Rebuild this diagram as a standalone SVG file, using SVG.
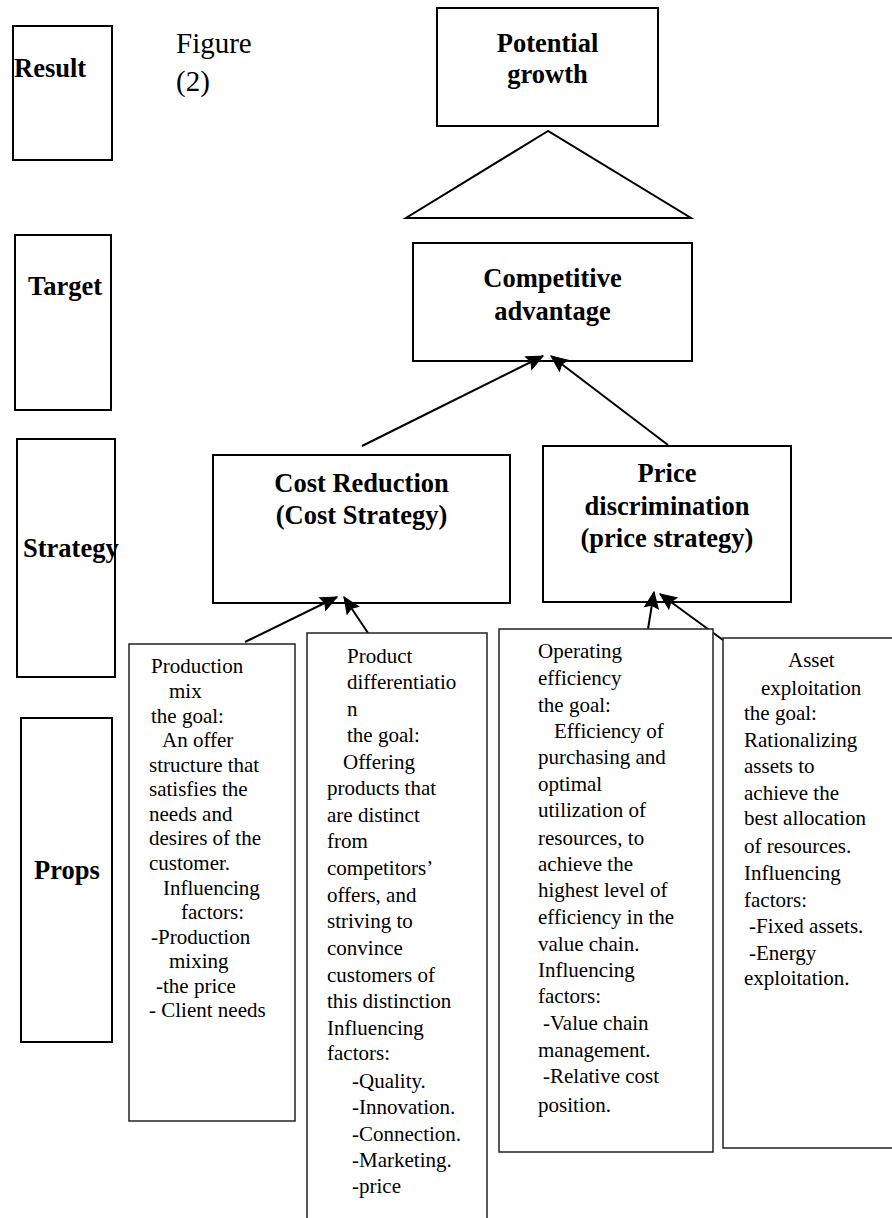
<svg xmlns="http://www.w3.org/2000/svg" width="892" height="1218" viewBox="0 0 892 1218">
<style>
.box{fill:#fff;stroke:#000;stroke-width:2}
.tbox{fill:#fff;stroke:#222;stroke-width:1.5}
.lbl{font-family:"Liberation Serif","Times New Roman",serif;font-weight:bold;font-size:26.5px;fill:#000}
.ttl{font-family:"Liberation Serif","Times New Roman",serif;font-weight:bold;font-size:26.5px;fill:#000;text-anchor:middle}
.txt{font-family:"Liberation Serif","Times New Roman",serif;font-size:21px;fill:#000}
.fig{font-family:"Liberation Serif","Times New Roman",serif;font-size:29px;fill:#000}
.conn{stroke:#000;stroke-width:2;fill:none;marker-end:url(#ah)}
</style>
<defs>
<marker id="ah" markerUnits="userSpaceOnUse" markerWidth="18" markerHeight="15" refX="16" refY="7" orient="auto" overflow="visible">
<path d="M0,0 L16,7 L0,14 L2.5,7 z" fill="#000" stroke="#000" stroke-width="1"/>
</marker>
</defs>

<g id="label-result">
<rect class="box" x="13" y="26" width="99" height="134"/>
<text class="lbl" x="14" y="77">Result</text>
</g>
<g id="label-target">
<rect class="box" x="15" y="235" width="96" height="175"/>
<text class="lbl" x="28" y="295">Target</text>
</g>
<g id="label-strategy">
<rect class="box" x="17" y="439" width="98" height="238"/>
<text class="lbl" x="23" y="557">Strategy</text>
</g>
<g id="label-props">
<rect class="box" x="21" y="718" width="91" height="324"/>
<text class="lbl" x="34" y="879">Props</text>
</g>

<g id="figure-caption">
<text class="fig" x="176" y="53">Figure</text>
<text class="fig" x="176" y="91">(2)</text>
</g>

<g id="potential-growth">
<rect class="box" x="437" y="8" width="221" height="118"/>
<text class="ttl" x="547.5" y="52">Potential</text>
<text class="ttl" x="547.5" y="83">growth</text>
</g>

<g id="triangle">
<polygon points="548,131 406,218 691,218" fill="#fff" stroke="#000" stroke-width="2"/>
</g>

<g id="competitive-advantage">
<rect class="box" x="413" y="243" width="279" height="118"/>
<text class="ttl" x="552.5" y="287">Competitive</text>
<text class="ttl" x="552.5" y="320">advantage</text>
</g>

<g id="cost-reduction">
<rect class="box" x="213" y="455" width="297" height="148"/>
<text class="ttl" x="361.5" y="492">Cost Reduction</text>
<text class="ttl" x="361.5" y="524">(Cost Strategy)</text>
</g>

<g id="price-discrimination">
<rect class="box" x="543" y="446" width="248" height="156"/>
<text class="ttl" x="667" y="482">Price</text>
<text class="ttl" x="667" y="515">discrimination</text>
<text class="ttl" x="667" y="547">(price strategy)</text>
</g>

<g id="connectors">
<line class="conn" x1="362" y1="446" x2="543" y2="356"/>
<line class="conn" x1="668" y1="445" x2="551" y2="356"/>
<line class="conn" x1="245" y1="642" x2="337" y2="597"/>
<line class="conn" x1="368" y1="633" x2="344" y2="597"/>
<line class="conn" x1="648" y1="629" x2="654" y2="592"/>
<line class="conn" x1="723" y1="640" x2="660" y2="594"/>
</g>

<g id="production-mix">
<rect class="tbox" x="129" y="644" width="166" height="477"/>
<text class="txt">
<tspan x="151" y="673">Production</tspan>
<tspan x="169" y="698">mix</tspan>
<tspan x="151" y="723">the goal:</tspan>
<tspan x="162" y="747">An offer</tspan>
<tspan x="149" y="772">structure that</tspan>
<tspan x="149" y="796">satisfies the</tspan>
<tspan x="149" y="821">needs and</tspan>
<tspan x="149" y="845">desires of the</tspan>
<tspan x="149" y="870">customer.</tspan>
<tspan x="163" y="895">Influencing</tspan>
<tspan x="181" y="919">factors:</tspan>
<tspan x="151" y="944">-Production</tspan>
<tspan x="169" y="968">mixing</tspan>
<tspan x="156" y="993">-the price</tspan>
<tspan x="149" y="1017">- Client needs</tspan>
</text>
</g>

<g id="product-differentiation">
<rect class="tbox" x="307" y="633" width="180" height="600"/>
<text class="txt">
<tspan x="347" y="663">Product</tspan>
<tspan x="347" y="689">differentiatio</tspan>
<tspan x="347" y="716">n</tspan>
<tspan x="347" y="742">the goal:</tspan>
<tspan x="343" y="769">Offering</tspan>
<tspan x="327" y="795">products that</tspan>
<tspan x="327" y="822">are distinct</tspan>
<tspan x="327" y="848">from</tspan>
<tspan x="327" y="875">competitors’</tspan>
<tspan x="327" y="902">offers, and</tspan>
<tspan x="327" y="928">striving to</tspan>
<tspan x="327" y="955">convince</tspan>
<tspan x="327" y="982">customers of</tspan>
<tspan x="327" y="1008">this distinction</tspan>
<tspan x="327" y="1035">Influencing</tspan>
<tspan x="327" y="1060">factors:</tspan>
<tspan x="352" y="1088">-Quality.</tspan>
<tspan x="352" y="1114">-Innovation.</tspan>
<tspan x="352" y="1141">-Connection.</tspan>
<tspan x="352" y="1167">-Marketing.</tspan>
<tspan x="352" y="1193">-price</tspan>
</text>
</g>

<g id="operating-efficiency">
<rect class="tbox" x="499" y="629" width="214" height="523"/>
<text class="txt">
<tspan x="538" y="658">Operating</tspan>
<tspan x="538" y="685">efficiency</tspan>
<tspan x="538" y="712">the goal:</tspan>
<tspan x="554" y="738">Efficiency of</tspan>
<tspan x="538" y="764">purchasing and</tspan>
<tspan x="538" y="791">optimal</tspan>
<tspan x="538" y="817">utilization of</tspan>
<tspan x="538" y="845">resources, to</tspan>
<tspan x="538" y="871">achieve the</tspan>
<tspan x="538" y="897">highest level of</tspan>
<tspan x="538" y="924">efficiency in the</tspan>
<tspan x="538" y="951">value chain.</tspan>
<tspan x="538" y="977">Influencing</tspan>
<tspan x="538" y="1003">factors:</tspan>
<tspan x="543" y="1030">-Value chain</tspan>
<tspan x="538" y="1057">management.</tspan>
<tspan x="543" y="1083">-Relative cost</tspan>
<tspan x="538" y="1112">position.</tspan>
</text>
</g>

<g id="asset-exploitation">
<rect class="tbox" x="723" y="638" width="180" height="510"/>
<text class="txt">
<tspan x="788" y="667">Asset</tspan>
<tspan x="761" y="695">exploitation</tspan>
<tspan x="744" y="720">the goal:</tspan>
<tspan x="744" y="747">Rationalizing</tspan>
<tspan x="744" y="773">assets to</tspan>
<tspan x="744" y="800">achieve the</tspan>
<tspan x="744" y="825">best allocation</tspan>
<tspan x="744" y="853">of resources.</tspan>
<tspan x="744" y="880">Influencing</tspan>
<tspan x="744" y="907">factors:</tspan>
<tspan x="749" y="933">-Fixed assets.</tspan>
<tspan x="749" y="960">-Energy</tspan>
<tspan x="744" y="985">exploitation.</tspan>
</text>
</g>
</svg>
